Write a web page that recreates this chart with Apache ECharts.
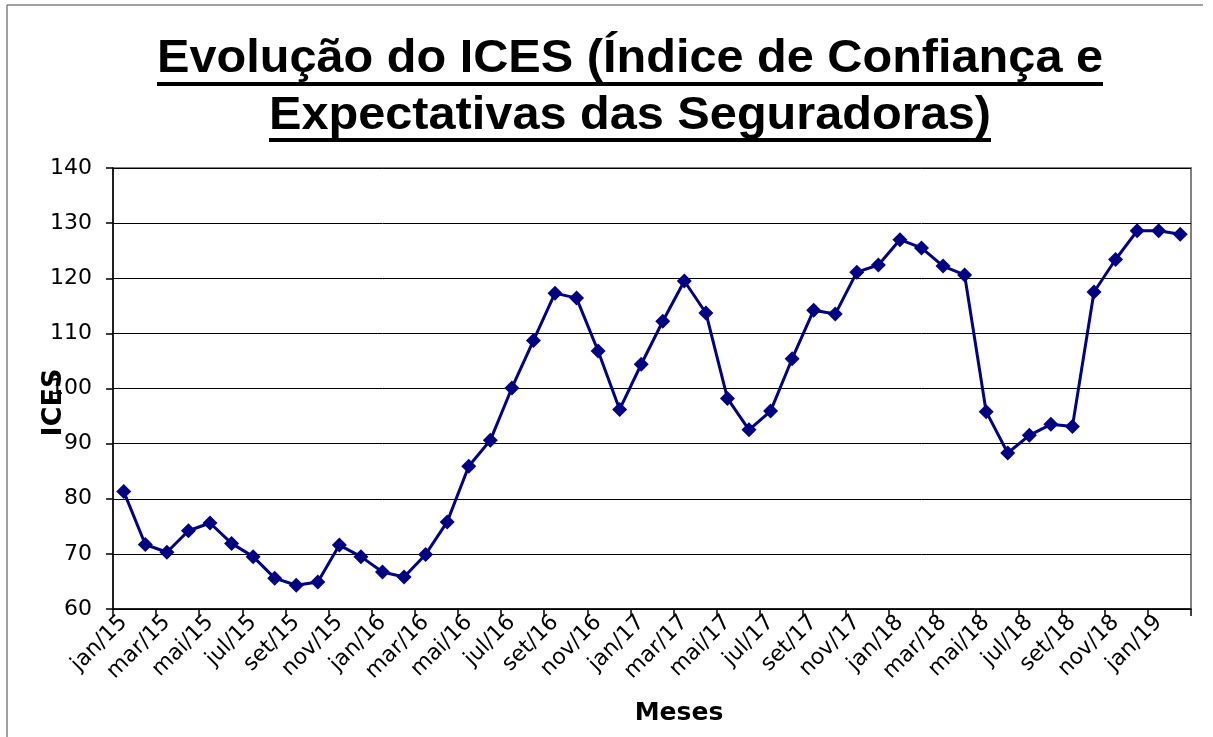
<!DOCTYPE html>
<html>
<head>
<meta charset="utf-8">
<script src="https://cdn.jsdelivr.net/npm/echarts@6/dist/echarts.min.js"></script>
<style>
html,body{margin:0;padding:0;background:#fff;}
#chart{width:1213px;height:737px;}
</style>
</head>
<body>
<div id="chart"></div>
<script>
var titleLines = ['Evolução do ICES (Índice de Confiança e', 'Expectativas das Seguradoras)'];
var categories = [
  'jan/15','fev/15','mar/15','abr/15','mai/15','jun/15','jul/15','ago/15','set/15','out/15','nov/15','dez/15',
  'jan/16','fev/16','mar/16','abr/16','mai/16','jun/16','jul/16','ago/16','set/16','out/16','nov/16','dez/16',
  'jan/17','fev/17','mar/17','abr/17','mai/17','jun/17','jul/17','ago/17','set/17','out/17','nov/17','dez/17',
  'jan/18','fev/18','mar/18','abr/18','mai/18','jun/18','jul/18','ago/18','set/18','out/18','nov/18','dez/18',
  'jan/19','fev/19'
];
var icesValues = [
  81.3, 71.7, 70.3, 74.2, 75.6, 71.9, 69.5, 65.6, 64.3, 64.9, 71.6, 69.5,
  66.7, 65.8, 69.9, 75.8, 85.9, 90.6, 100.1, 108.7, 117.3, 116.4, 106.8, 96.2,
  104.4, 112.2, 119.5, 113.7, 98.2, 92.5, 95.9, 105.4, 114.2, 113.5, 121.1, 122.4,
  127.0, 125.5, 122.2, 120.6, 95.8, 88.3, 91.5, 93.5, 93.1, 117.5, 123.4, 128.6,
  128.6, 128.0
];
var yMin = 60, yMax = 140, yStep = 10;

var chart = echarts.init(document.getElementById('chart'));

// title layout (measured so that text fits target widths)
var titleFont = 'bold 46px "Liberation Sans", Arial, sans-serif';
var mctx = document.createElement('canvas').getContext('2d');
mctx.font = titleFont;
var titleSpecs = [
  {text: titleLines[0], cx: 630, cy: 59, w: 946, uy: 82},
  {text: titleLines[1], cx: 630, cy: 116, w: 722, uy: 138}
];
var graphics = [];
titleSpecs.forEach(function (t) {
  var mw = mctx.measureText(t.text).width;
  var sx = t.w / mw;
  graphics.push({
    type: 'text', x: t.cx, y: t.cy, scaleX: sx, originX: 0, originY: 0,
    style: {text: t.text, font: titleFont, fill: '#000', textAlign: 'center', textVerticalAlign: 'middle', align: 'center', verticalAlign: 'middle'}
  });
  graphics.push({
    type: 'rect', shape: {x: t.cx - t.w / 2, y: t.uy, width: t.w, height: 4},
    style: {fill: '#000'}
  });
});
// outer chart frame
graphics.push({type: 'line', shape: {x1: 7, y1: 5, x2: 1203, y2: 5}, style: {stroke: '#808080', lineWidth: 1.5}});
graphics.push({type: 'line', shape: {x1: 7, y1: 5, x2: 7, y2: 737}, style: {stroke: '#808080', lineWidth: 1.5}});

var option = {
  animation: false,
  backgroundColor: '#fff',
  graphic: graphics,
  grid: {left: 113, right: 22, top: 168, bottom: 128, show: true, borderColor: '#808080', borderWidth: 2, backgroundColor: '#fff'},
  xAxis: {
    type: 'category',
    data: categories,
    boundaryGap: true,
    name: 'Meses',
    nameLocation: 'middle',
    nameGap: 92,
    nameTextStyle: {fontFamily: 'DejaVu Sans', fontWeight: 'bold', fontSize: 25, color: '#000', padding: [0, 0, 0, 54]},
    axisLine: {lineStyle: {color: '#000', width: 1.5}},
    axisTick: {show: true, interval: 1, length: 7, inside: false, lineStyle: {color: '#000', width: 1.5}},
    axisLabel: {interval: 1, rotate: 45, margin: 10, fontFamily: 'DejaVu Sans', fontSize: 22, color: '#000'},
    splitLine: {show: false}
  },
  yAxis: {
    type: 'value',
    min: yMin, max: yMax, interval: yStep,
    name: 'ICES',
    nameLocation: 'middle',
    nameRotate: 90,
    nameGap: 46,
    nameMoveOverlap: false,
    nameTextStyle: {fontFamily: 'DejaVu Sans', fontWeight: 'bold', fontSize: 27, color: '#000', padding: [0, 28, 0, 0]},
    axisLine: {show: true, lineStyle: {color: '#000', width: 1.5}},
    axisTick: {show: true, length: 7, inside: false, lineStyle: {color: '#000', width: 1.5}},
    axisLabel: {margin: 21, fontFamily: 'DejaVu Sans', fontSize: 22, color: '#000'},
    splitLine: {show: true, lineStyle: {color: '#000', width: 1}}
  },
  series: [{
    type: 'line',
    data: icesValues,
    symbol: 'diamond',
    symbolSize: 15,
    showAllSymbol: true,
    z: 5,
    lineStyle: {color: '#000080', width: 3},
    itemStyle: {color: '#000080'}
  }]
};
chart.setOption(option);
</script>
</body>
</html>
